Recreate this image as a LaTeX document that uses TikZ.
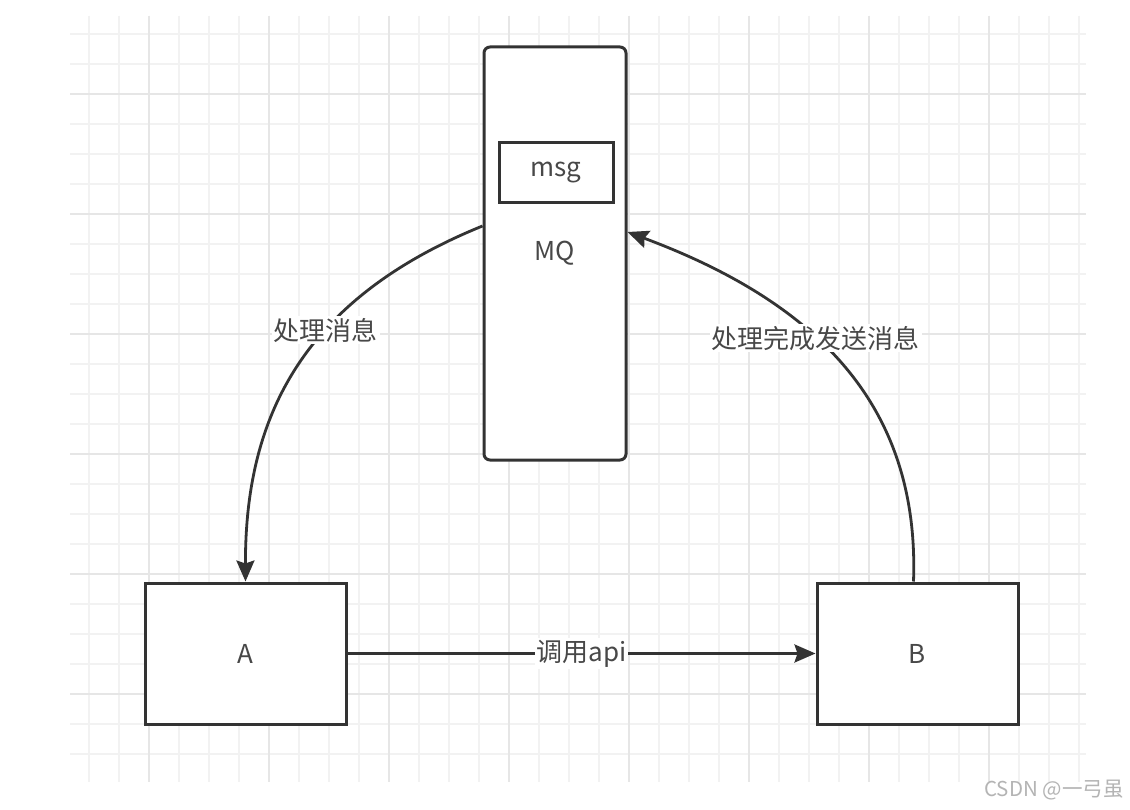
\documentclass[tikz,border=0pt]{standalone}
\usepackage{fontspec}
\setmainfont{Noto Sans CJK SC}
\usetikzlibrary{arrows.meta,calc}
\definecolor{minorgrid}{HTML}{F2F2F2}
\definecolor{majorgrid}{HTML}{E6E6E6}
\definecolor{ink}{HTML}{333333}
\definecolor{txt}{HTML}{484848}
\definecolor{wm}{HTML}{B4B4B4}
\begin{document}
\begin{tikzpicture}[x=1pt,y=-1pt,
  box/.style={draw=ink,line width=3pt,fill=white,inner sep=0pt,text=txt,font=\fontsize{26}{30}\selectfont},
  conn/.style={draw=ink,line width=2.8pt,-{Stealth[length=21pt,width=18pt,inset=3pt]}},
  lbl/.style={fill=white,text=txt,inner sep=2pt,font=\fontsize{26}{30}\selectfont}]
\useasboundingbox (0,0) rectangle (1130,810);
\fill[white] (0,0) rectangle (1130,810);
% grid
\foreach \x in {89,119,...,1079}{\draw[minorgrid,line width=1.6pt] (\x,16) -- (\x,782);}
\foreach \y in {34,64,...,754}{\draw[minorgrid,line width=1.6pt] (70,\y) -- (1086,\y);}
\foreach \x in {149,269,...,1049}{\draw[majorgrid,line width=1.6pt] (\x,16) -- (\x,782);}
\foreach \y in {94,214,...,694}{\draw[majorgrid,line width=1.6pt] (70,\y) -- (1086,\y);}
% nodes
\node[box,rounded corners=6pt,minimum width=142pt,minimum height=413pt] (MQ) at (555,253.5) {\raisebox{-3pt}{MQ}};
\node[box,minimum width=114pt,minimum height=60pt] (msg) at (556,173) {msg};
\node[box,minimum width=201pt,minimum height=141pt] (A) at (245.5,653.5) {A};
\node[box,minimum width=201pt,minimum height=141pt] (B) at (917.5,653.5) {B};
% connectors
\draw[conn] ([yshift=27.5pt]MQ.west) .. controls (300,300) and (245,420) .. (A.north)
  node[lbl,pos=0.38] (l1) {处理消息};
\draw[conn] ([xshift=-4pt]B.north) .. controls (920,400) and (810,300) .. ([yshift=21.5pt]MQ.east)
  node[lbl,pos=0.58] (l2) {处理完成发送消息};
\draw[conn] (A.east) -- (B.west) node[lbl,midway] (l3) {调用api};
% watermark
\node[text=wm,inner sep=0pt,font=\fontsize{20.5}{24}\selectfont] (wmk) at (1054,790) {CSDN @一弓虽};
\end{tikzpicture}
\end{document}
